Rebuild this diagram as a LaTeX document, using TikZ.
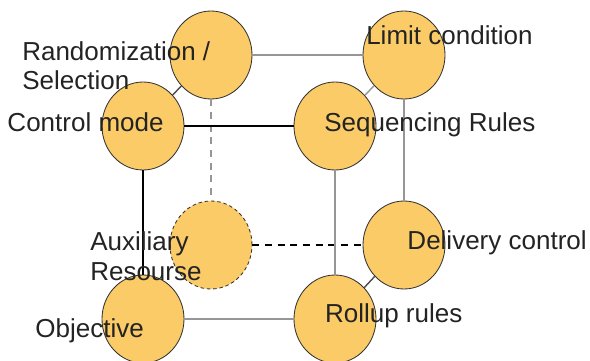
\documentclass[tikz,border=0pt]{standalone}
\usepackage{fontspec}
\setmainfont{Liberation Sans}
\usetikzlibrary{shapes.geometric}
\definecolor{CubeGold}{RGB}{251,203,104}
\definecolor{EdgeGray}{RGB}{150,150,150}
\definecolor{LabelInk}{RGB}{35,35,35}

\begin{document}
\begin{tikzpicture}[
    facet/.style={ellipse, draw=black!80, line width=0.6pt, fill=CubeGold, minimum width=2.05cm, minimum height=2.2cm, inner sep=0pt},
    hidden/.style={facet, dash pattern=on 2.5pt off 2pt},
    tag/.style={anchor=base west, inner sep=0pt, align=left, text=LabelInk, font=\fontsize{18.5}{21.3}\selectfont},
    backedge/.style={EdgeGray, line width=1pt},
    frontedge/.style={black, line width=0.9pt}]
  \useasboundingbox (0,0) rectangle (14.75,9);

  % back face
  \node[facet]  (rand)    at (5.275,7.625) {};
  \node[facet]  (limit)   at (10.1,7.625) {};
  \node[hidden] (aux)     at (5.275,2.875) {};
  \node[facet]  (deliv)   at (10.1,2.875) {};
  % front face
  \node[facet]  (control) at (3.575,5.85) {};
  \node[facet]  (seq)     at (8.375,5.85) {};
  \node[facet]  (obj)     at (3.575,1.025) {};
  \node[facet]  (rollup)  at (8.375,1.025) {};

  \draw[backedge] (rand) -- (limit);
  \draw[backedge, dash pattern=on 5pt off 4pt] (rand) -- (aux);
  \draw[black, line width=0.8pt, dash pattern=on 5pt off 4pt] (aux) -- (deliv);
  \draw[backedge] (limit) -- (deliv);
  \draw[backedge, black!70] (rand) -- (control);
  \draw[backedge] (limit) -- (seq);
  \draw[backedge, black!70] (deliv) -- (rollup);
  \draw[frontedge] (control) -- (seq);
  \draw[frontedge] (control) -- (obj);
  \draw[backedge] (seq) -- (rollup);
  \draw[backedge] (obj) -- (rollup);

  \node[tag] (lrand)    at (0.55,6.75)  {Randomization /\\Selection};
  \node[tag] (lcontrol) at (0.18,5.7)   {Control mode};
  \node[tag] (llimit)   at (9.15,7.875) {Limit condition};
  \node[tag] (lseq)     at (8.1,5.7)    {Sequencing Rules};
  \node[tag] (laux)     at (2.25,2.0)   {Auxiliary\\Resourse};
  \node[tag] (lobj)     at (0.88,0.575) {Objective};
  \node[tag] (ldeliv)   at (10.18,2.775){Delivery control};
  \node[tag] (lrollup)  at (8.12,0.95)  {Rollup rules};
\end{tikzpicture}
\end{document}
